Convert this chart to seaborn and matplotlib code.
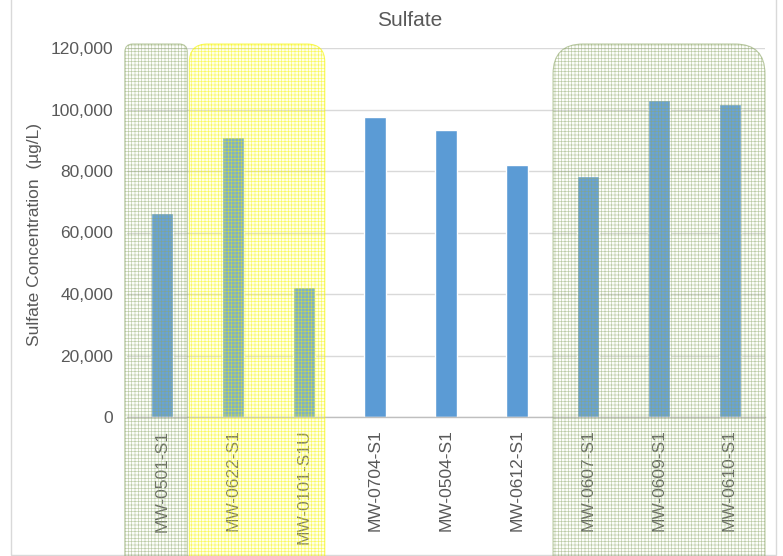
import matplotlib
matplotlib.use("Agg")
import matplotlib.pyplot as plt
from matplotlib.patches import FancyBboxPatch, Rectangle
from matplotlib.ticker import FuncFormatter
from matplotlib.colors import to_rgba
import pandas as pd
import seaborn as sns

# Sulfate results per well
wells = ["MW-0501-S1", "MW-0622-S1", "MW-0101-S1U", "MW-0704-S1", "MW-0504-S1",
         "MW-0612-S1", "MW-0607-S1", "MW-0609-S1", "MW-0610-S1"]
sulfate = [66500, 91000, 42200, 97500, 93300, 82000, 78400, 103000, 101800]
y_ticks = [0, 20000, 40000, 60000, 80000, 100000, 120000]

# Highlighted groups of wells:
# (left edge, right edge in category units, grid colour, grid alpha, fill, fill alpha, corner px)
groups = [
    (-0.53, 0.35, "#8FA86A", 0.60, "#E9EFDD", 0.10, 8),
    (0.38, 2.29, "#F5F500", 0.60, "#FFFF99", 0.22, 18),
    (5.51, 8.50, "#8FA86A", 0.60, "#E9EFDD", 0.10, 30),
]

sns.set_theme(style="white")
plt.rcParams["font.family"] = ["Liberation Sans", "DejaVu Sans"]
plt.rcParams["hatch.linewidth"] = 0.45

TEXT = "#595959"
W, H = 783, 556
fig = plt.figure(figsize=(W / 100, H / 100), dpi=100)
ax = fig.add_axes([127 / W, 1 - 417 / H, 638 / W, 369 / H])

df = pd.DataFrame({"well": wells, "sulfate": sulfate})
sns.barplot(data=df, x="well", y="sulfate", color="#5B9BD5", saturation=1,
            width=0.31, ax=ax, zorder=2)

ax.set_xlim(-0.5, len(wells) - 0.5)
ax.set_ylim(0, 120000)
ax.set_yticks(y_ticks)
ax.yaxis.set_major_formatter(FuncFormatter(lambda v, p: f"{int(v):,}"))
ax.set_xlabel("")
ax.set_ylabel("")
ax.grid(axis="y", color="#D9D9D9", linewidth=1, zorder=0)
ax.grid(axis="x", visible=False)
for s in ["left", "right", "top"]:
    ax.spines[s].set_visible(False)
ax.spines["bottom"].set_color("#BFBFBF")
ax.spines["bottom"].set_linewidth(1)
ax.tick_params(axis="x", labelrotation=90, length=0, pad=9, labelsize=12.5, colors=TEXT)
ax.tick_params(axis="y", length=0, pad=10, labelsize=12.5, colors=TEXT)
for lab in ax.get_xticklabels():
    lab.set_va("top")

# Rounded, grid-hatched highlight panels laid over the grouped wells
top_val = 121300
ytop = ax.transData.transform((0, top_val))[1]
ybot = -40
for xl, xr, hatch_c, hatch_a, fill_c, fill_a, rad in groups:
    x0 = ax.transData.transform((xl, 0))[0]
    x1 = ax.transData.transform((xr, 0))[0]
    geom = dict(xy=(x0 + rad, ybot + rad), width=(x1 - x0) - 2 * rad,
                height=(ytop - ybot) - 2 * rad, boxstyle=f"round,pad={rad}", transform=None)
    fill = FancyBboxPatch(**geom, facecolor=to_rgba(fill_c, fill_a), edgecolor="none", zorder=3)
    grid = FancyBboxPatch(**geom, facecolor="none", hatch="+++++",
                          edgecolor=to_rgba(hatch_c, hatch_a), linewidth=0.8, zorder=4)
    fig.patches.extend([fill, grid])

# Title and axis label
fig.text(410 / W, 1 - 20 / H, "Sulfate", ha="center", va="center", fontsize=15, color=TEXT)
fig.text(35 / W, 1 - 234 / H, "Sulfate Concentration  (\u00b5g/L)", ha="center", va="center",
         rotation=90, fontsize=12.5, color=TEXT)

# Chart frame
fig.patches.append(Rectangle((11, 1), 765, 600, transform=None, facecolor="none",
                             edgecolor="#D9D9D9", linewidth=1, zorder=0))

fig.savefig("out.png", dpi=100)
